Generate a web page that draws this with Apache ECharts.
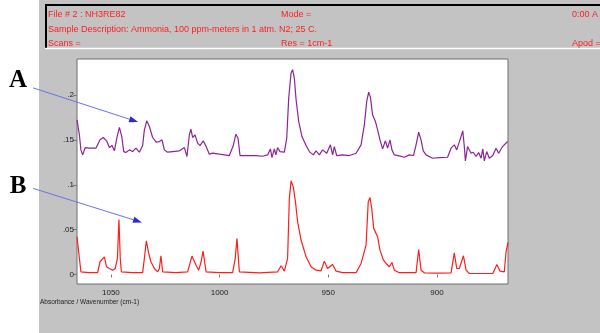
<!DOCTYPE html>
<html>
<head>
<meta charset="utf-8">
<script src="https://cdn.jsdelivr.net/npm/echarts@6/dist/echarts.min.js"></script>
<style>
  html, body { margin: 0; padding: 0; background: #ffffff; }
  #chart { width: 600px; height: 333px; }
</style>
</head>
<body>
<div id="chart"></div>
<script>
// Spectrum A: sample absorbance (wavenumber cm-1, absorbance)
const wavenumbersA = [1065.6, 1064.5, 1063.8, 1063.0, 1061.8, 1060.0, 1056.9, 1055.0, 1053.5, 1052.0,
  1050.7, 1049.5, 1048.4, 1047.3, 1046.1, 1045.0, 1044.1, 1043.1, 1041.5, 1040.0,
  1038.5, 1036.9, 1035.4, 1034.6, 1033.5, 1032.3, 1030.8, 1029.2, 1027.7, 1026.5,
  1025.4, 1023.9, 1021.6, 1018.5, 1016.2, 1015.0, 1013.9, 1013.2, 1012.4, 1011.3,
  1010.1, 1009.0, 1007.5, 1006.2, 1004.7, 1003.2, 1000.1, 995.5, 993.7, 992.5,
  991.5, 990.6, 987.8, 983.2, 980.2, 977.9, 976.6, 975.9, 974.8, 974.1,
  973.3, 972.2, 970.2, 969.1, 968.2, 967.1, 966.4, 965.6, 964.8, 963.6,
  962.1, 960.2, 958.7, 956.9, 955.6, 954.1, 952.6, 950.7, 949.0, 948.0,
  947.2, 946.1, 943.4, 940.3, 937.2, 934.9, 933.4, 932.3, 931.4, 930.6,
  929.6, 928.3, 927.3, 926.2, 925.0, 923.7, 922.7, 921.6, 920.7, 919.6,
  917.3, 915.0, 912.7, 910.8, 909.6, 908.4, 907.3, 906.3, 905.0, 902.0,
  898.9, 895.1, 893.5, 892.0, 890.9, 889.4, 888.1, 887.4, 886.9, 885.9,
  884.3, 883.3, 882.0, 880.8, 879.7, 878.9, 878.2, 877.1, 875.9, 874.3,
  872.8, 871.6, 869.8, 867.5];
const absorbanceA = [0.1724, 0.1557, 0.1389, 0.1333, 0.1415, 0.1408, 0.1408, 0.1501, 0.1527, 0.1490,
  0.1415, 0.1437, 0.1378, 0.1519, 0.1639, 0.1538, 0.1370, 0.1359, 0.1389, 0.1370,
  0.1408, 0.1363, 0.1437, 0.1612, 0.1713, 0.1650, 0.1527, 0.1475, 0.1482, 0.1501,
  0.1389, 0.1363, 0.1370, 0.1378, 0.1415, 0.1315, 0.1557, 0.1620, 0.1527, 0.1557,
  0.1464, 0.1437, 0.1490, 0.1426, 0.1341, 0.1352, 0.1341, 0.1326, 0.1437, 0.1564,
  0.1519, 0.1326, 0.1326, 0.1326, 0.1318, 0.1333, 0.1400, 0.1303, 0.1400, 0.1333,
  0.1415, 0.1370, 0.1363, 0.1519, 0.1966, 0.2246, 0.2283, 0.2190, 0.1948, 0.1706,
  0.1538, 0.1437, 0.1370, 0.1333, 0.1378, 0.1333, 0.1389, 0.1352, 0.1445, 0.1333,
  0.1426, 0.1326, 0.1333, 0.1326, 0.1352, 0.1445, 0.1668, 0.1929, 0.2033, 0.1974,
  0.1780, 0.1706, 0.1612, 0.1501, 0.1400, 0.1490, 0.1408, 0.1501, 0.1389, 0.1333,
  0.1322, 0.1307, 0.1333, 0.1326, 0.1445, 0.1586, 0.1501, 0.1378, 0.1333, 0.1296,
  0.1303, 0.1307, 0.1408, 0.1445, 0.1389, 0.1501, 0.1601, 0.1426, 0.1266, 0.1426,
  0.1352, 0.1363, 0.1315, 0.1359, 0.1296, 0.1400, 0.1266, 0.1370, 0.1296, 0.1326,
  0.1408, 0.1352, 0.1426, 0.1482];

// Spectrum B: reference ammonia absorbance
const wavenumbersB = [1065.6, 1063.8, 1060.0, 1056.1, 1055.0, 1053.0, 1052.0, 1050.7, 1049.2, 1048.0,
  1047.0, 1046.3, 1045.7, 1045.2, 1040.0, 1035.4, 1034.6, 1033.7, 1032.6, 1031.6,
  1030.0, 1028.5, 1027.7, 1027.0, 1026.2, 1020.1, 1014.7, 1012.7, 1010.8, 1009.6,
  1008.5, 1007.6, 1006.2, 1000.1, 994.0, 992.8, 992.0, 990.9, 981.7, 973.3,
  971.7, 970.2, 968.7, 967.9, 967.1, 966.1, 965.1, 964.1, 962.5, 960.2,
  957.9, 955.6, 953.3, 951.8, 950.3, 948.0, 946.4, 943.4, 937.2, 934.9,
  932.6, 931.6, 930.8, 930.0, 929.1, 927.3, 926.2, 924.6, 923.4, 921.9,
  920.7, 919.6, 917.3, 909.6, 908.4, 907.3, 905.8, 899.7, 893.5, 892.0,
  890.9, 889.7, 887.8, 886.6, 885.1, 874.3, 872.4, 871.0, 869.0, 868.2,
  867.3];
const absorbanceB = [0.0421, 0.0030, 0.0020, 0.0020, 0.0142, 0.0197, 0.0086, 0.0067, 0.0048, 0.0067,
  0.0180, 0.0614, 0.0180, 0.0030, 0.0020, 0.0020, 0.0180, 0.0376, 0.0235, 0.0142,
  0.0067, 0.0030, 0.0067, 0.0209, 0.0030, 0.0020, 0.0030, 0.0205, 0.0104, 0.0048,
  0.0142, 0.0261, 0.0030, 0.0020, 0.0020, 0.0180, 0.0402, 0.0030, 0.0019, 0.0030,
  0.0097, 0.0037, 0.0180, 0.0849, 0.1043, 0.0979, 0.0812, 0.0588, 0.0384, 0.0197,
  0.0086, 0.0048, 0.0041, 0.0149, 0.0067, 0.0112, 0.0037, 0.0020, 0.0020, 0.0123,
  0.0328, 0.0812, 0.0857, 0.0737, 0.0514, 0.0421, 0.0272, 0.0160, 0.0123, 0.0086,
  0.0134, 0.0048, 0.0020, 0.0020, 0.0279, 0.0048, 0.0019, 0.0015, 0.0019, 0.0242,
  0.0067, 0.0067, 0.0209, 0.0048, 0.0011, 0.0011, 0.0112, 0.0037, 0.0030, 0.0253,
  0.0358];

// Axis ranges and tick labels
const wavenumberRange = [867.3, 1065.6];
const absorbanceRange = [-0.0106, 0.2402];
const wavenumberTicks = [1050, 1000, 950, 900];
const absorbanceTicks = [0, 0.05, 0.1, 0.15, 0.2];

// Instrument header fields
const headerRows = [
  ['File # 2 : NH3RE82', 'Mode =', '0:00 A'],
  ['Sample Description: Ammonia, 100 ppm-meters in 1 atm. N2; 25 C.', '', ''],
  ['Scans =', 'Res = 1cm-1', 'Apod =']
];
const axisCaption = 'Absorbance / Wavenumber (cm-1)';

// Callout arrows, in data units: [start, tip]
const calloutA = { label: 'A', from: [1085.8, 0.208], to: [1037.5, 0.170] };
const calloutB = { label: 'B', from: [1085.8, 0.096], to: [1035.7, 0.058] };

const pairs = (xs, ys) => xs.map((x, i) => [x, ys[i]]);
const fmtAbs = v => (v === 0 ? '0' : String(v).replace(/^0\./, '.'));

const chart = echarts.init(document.getElementById('chart'), null, { renderer: 'canvas' });
const GRID = { left: 77, top: 59, width: 431, height: 225 };

chart.setOption({
  animation: false,
  backgroundColor: '#c3c3c3',
  grid: {
    left: GRID.left, top: GRID.top, width: GRID.width, height: GRID.height,
    show: true, backgroundColor: '#ffffff', borderColor: '#6e6e6e', borderWidth: 1
  },
  xAxis: {
    type: 'value', inverse: true,
    min: wavenumberRange[0], max: wavenumberRange[1],
    axisLine: { show: false },
    splitLine: { show: false },
    axisTick: { show: true, length: 3, lineStyle: { color: '#7a7a7a' }, customValues: wavenumberTicks },
    axisLabel: {
      customValues: wavenumberTicks, margin: 5, formatter: v => String(v),
      fontFamily: 'Liberation Sans', fontSize: 8, color: '#222'
    }
  },
  yAxis: {
    type: 'value',
    min: absorbanceRange[0], max: absorbanceRange[1],
    axisLine: { show: false },
    splitLine: { show: false },
    axisTick: { show: true, length: 4, lineStyle: { color: '#7a7a7a' }, customValues: absorbanceTicks },
    axisLabel: {
      customValues: absorbanceTicks, margin: 3, formatter: fmtAbs,
      fontFamily: 'Liberation Sans', fontSize: 8, color: '#222'
    }
  },
  series: [
    {
      name: 'A', type: 'line', data: pairs(wavenumbersA, absorbanceA),
      showSymbol: false, lineStyle: { color: '#8e2396', width: 1.2 }
    },
    {
      name: 'B', type: 'line', data: pairs(wavenumbersB, absorbanceB),
      showSymbol: false, lineStyle: { color: '#ff1c1c', width: 1.2 }
    }
  ]
});

// Decorations: left margin, header panel, callout letters and arrows
const graphics = [];
graphics.push({ type: 'rect', shape: { x: 0, y: 0, width: 39, height: 333 }, style: { fill: '#ffffff' }, z: 1 });
// header panel bevel
graphics.push({ type: 'line', shape: { x1: 45, y1: 5, x2: 600, y2: 5 }, style: { stroke: '#000', lineWidth: 2 }, z: 1 });
graphics.push({ type: 'line', shape: { x1: 46, y1: 4, x2: 46, y2: 48 }, style: { stroke: '#000', lineWidth: 2 }, z: 1 });
graphics.push({ type: 'line', shape: { x1: 45, y1: 48.5, x2: 600, y2: 48.5 }, style: { stroke: '#ffffff', lineWidth: 1.5 }, z: 1 });
const colX = [48, 281, 572];
const rowY = [14.5, 29.5, 43.5];
headerRows.forEach((row, r) => {
  row.forEach((txt, c) => {
    if (!txt) return;
    graphics.push({
      type: 'text', x: colX[c], y: rowY[r], z: 5,
      style: { text: txt, fill: '#ff1e1e', font: '9px "Liberation Sans"', textVerticalAlign: 'middle' }
    });
  });
});
graphics.push({
  type: 'text', x: 40, y: 302, z: 5,
  style: { text: axisCaption, fill: '#222', font: '6.5px "Liberation Sans"', textVerticalAlign: 'middle' }
});

const letterY = { A: 81, B: 187 };
[calloutA, calloutB].forEach(c => {
  const p0 = chart.convertToPixel({ gridIndex: 0 }, c.from);
  const p1 = chart.convertToPixel({ gridIndex: 0 }, c.to);
  const dx = p1[0] - p0[0], dy = p1[1] - p0[1];
  const len = Math.hypot(dx, dy);
  const ux = dx / len, uy = dy / len;
  const bx = p1[0] - ux * 9, by = p1[1] - uy * 9;
  graphics.push({
    type: 'line', z: 20,
    shape: { x1: p0[0], y1: p0[1], x2: bx, y2: by },
    style: { stroke: '#6674e6', lineWidth: 1 }
  });
  graphics.push({
    type: 'polygon', z: 20,
    shape: { points: [[p1[0], p1[1]], [bx - uy * 3.2, by + ux * 3.2], [bx + uy * 3.2, by - ux * 3.2]] },
    style: { fill: '#2b2bd6' }
  });
  graphics.push({
    type: 'text', x: 18, y: letterY[c.label], z: 20,
    style: {
      text: c.label, fill: '#000', font: 'bold 25px "Liberation Serif"',
      textAlign: 'center', textVerticalAlign: 'middle'
    }
  });
});

chart.setOption({ graphic: graphics });
</script>
</body>
</html>
